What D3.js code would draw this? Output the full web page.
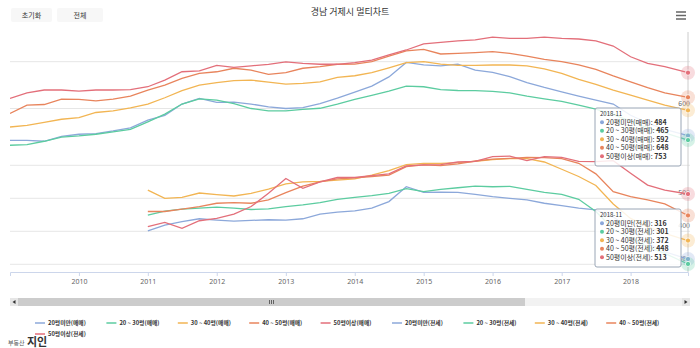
<!DOCTYPE html>
<html>
<head>
<meta charset="utf-8">
<script src="https://cdn.jsdelivr.net/npm/d3@7"></script>
<style>
  body { margin: 0; background: #fff; }
  svg { font-family: "Noto Sans CJK KR", "Noto Sans", sans-serif; }
</style>
</head>
<body>
<div id="chart"></div>
<script>
// quarterly samples, last point = 2018-11
const saleDates = ["2009-01","2009-04","2009-07","2009-10","2010-01","2010-04","2010-07","2010-10",
  "2011-01","2011-04","2011-07","2011-10","2012-01","2012-04","2012-07","2012-10",
  "2013-01","2013-04","2013-07","2013-10","2014-01","2014-04","2014-07","2014-10",
  "2015-01","2015-04","2015-07","2015-10","2016-01","2016-04","2016-07","2016-10",
  "2017-01","2017-04","2017-07","2017-10","2018-01","2018-04","2018-07","2018-11"];
const rentDates = saleDates.slice(8);

// 매매
const sale20 = [464,464,460,481, 490,493,504,517, 550,571,619,643, 626,627,619,607, 600,604,621,644, 670,696,735,797, 786,782,790,764, 754,736,711,690, 671,653,636,619, 571,538,511,484];
const sale2030 = [443,446,460,478, 483,490,500,511, 543,576,619,641, 636,621,600,590, 590,596,601,619, 639,656,674,696, 693,681,677,676, 673,667,653,641, 630,614,597,574, 546,517,496,465];
const sale3040 = [521,528,541,554, 561,583,590,603, 619,646,676,700, 711,719,721,713, 704,707,714,733, 740,753,774,796, 800,790,784,784, 786,786,782,769, 750,724,703,679, 657,636,614,592];
const sale4050 = [579,614,617,640, 639,633,640,653, 679,700,729,750, 757,772,764,746, 753,772,779,789, 790,800,824,846, 853,833,836,839, 843,836,824,810, 800,786,767,739, 714,689,667,648];
const sale50 = [643,667,679,679, 674,679,679,681, 693,721,757,761, 784,776,782,789, 799,793,789,789, 796,807,829,850, 876,883,889,893, 905,900,900,905, 900,897,889,867, 821,793,779,753];

// 전세
const rent20 = [401,419,429,438, 434,431,433,435, 434,438,452,458, 462,470,490,535, 518,519,518,512, 505,500,495,485, 478,470,465,444, 404,364,338,316];
const rent2030 = [449,461,467,470, 473,470,466,468, 475,480,487,497, 503,508,515,529, 520,527,532,537, 535,536,527,518, 512,497,460,406, 379,353,333,301];
const rent3040 = [525,500,503,516, 511,507,515,528, 544,550,551,555, 559,570,584,602, 606,606,608,612, 617,620,620,610, 588,566,539,483, 439,414,394,372];
const rent4050 = [460,460,467,475, 485,487,485,495, 517,537,550,559, 562,566,570,596, 601,599,604,613, 619,621,624,623, 620,606,574,520, 505,495,483,448];
const rent50 = [414,427,409,432, 439,452,475,515, 560,530,550,563, 563,569,574,598, 601,602,610,612, 626,628,614,626, 624,612,611,614, 576,540,525,513];

const sizeNames = ["20평미만", "20 ~ 30평", "30 ~ 40평", "40 ~ 50평", "50평이상"];
const colors = ["#8ca8da", "#5cccа0".replace("а","a"), "#f2b553", "#e8845c", "#e36f7a"];
const yearTicks = [2010, 2011, 2012, 2013, 2014, 2015, 2016, 2017, 2018];
const topGrid = [600, 800], topLabels = [600];
const bottomGrid = [300, 400, 500, 600], bottomLabels = [300, 400, 500];
const tipDate = "2018-11";

const parse = d3.timeParse("%Y-%m");
const W = 700, H = 348;

const svg = d3.select("#chart").append("svg")
  .attr("width", W).attr("height", H);

const x = d3.scaleTime()
  .domain([parse("2009-01"), parse("2018-11")])
  .range([10, 688]);
const yTop = d3.scaleLinear().domain([400, 800]).range([155.3, 61.7]);
const yBot = d3.scaleLinear().domain([300, 600]).range([264.3, 165.3]);

// title + buttons + menu
svg.append("text").attr("x", 350).attr("y", 15).attr("text-anchor", "middle")
  .attr("font-size", 9).attr("fill", "#333").text("경남 거제시 멀티차트");

[["초기화", 11, 41], ["전체", 57, 46]].forEach(([t, bx, bw]) => {
  svg.append("rect").attr("x", bx).attr("y", 8).attr("width", bw).attr("height", 14)
    .attr("rx", 2).attr("fill", "#f7f7f7");
  svg.append("text").attr("x", bx + bw / 2).attr("y", 17.5).attr("text-anchor", "middle")
    .attr("font-size", 7).attr("fill", "#333").text(t);
});
[12, 15.5, 19].forEach(yy => {
  svg.append("line").attr("x1", 676).attr("x2", 686).attr("y1", yy).attr("y2", yy)
    .attr("stroke", "#666").attr("stroke-width", 1.5);
});

// grid
const grid = svg.append("g");
topGrid.forEach(v => grid.append("line").attr("x1", 10).attr("x2", 690)
  .attr("y1", yTop(v)).attr("y2", yTop(v)).attr("stroke", "#e6e6e6"));
bottomGrid.forEach(v => grid.append("line").attr("x1", 10).attr("x2", 690)
  .attr("y1", yBot(v)).attr("y2", yBot(v)).attr("stroke", "#e6e6e6"));

// x axis
const xAxis = svg.append("g").attr("transform", "translate(0,272)")
  .call(d3.axisBottom(x)
    .tickValues(yearTicks.map(yr => new Date(yr, 0, 1)))
    .tickFormat(d3.timeFormat("%Y"))
    .tickSize(4).tickPadding(3));
xAxis.select(".domain").attr("stroke", "#ccd6eb");
xAxis.selectAll(".tick line").attr("stroke", "#ccd6eb");
xAxis.selectAll("text").attr("font-size", 7).attr("fill", "#666")
  .attr("font-family", "'Noto Sans', sans-serif");

// y labels (inside, right)
const yl = svg.append("g").attr("font-size", 7).attr("fill", "#666").attr("text-anchor", "end");
topLabels.forEach(v => yl.append("text").attr("x", 690).attr("y", yTop(v) - 3).text(v));
bottomLabels.forEach(v => yl.append("text").attr("x", 690).attr("y", yBot(v) - 3).text(v));

// lines
svg.append("clipPath").attr("id", "clip").append("rect")
  .attr("x", 10).attr("y", 28).attr("width", 682).attr("height", 246);
const plot = svg.append("g").attr("clip-path", "url(#clip)");

const saleSeries = [sale20, sale2030, sale3040, sale4050, sale50];
const rentSeries = [rent20, rent2030, rent3040, rent4050, rent50];

const lineTop = d3.line().x(d => x(d.date)).y(d => yTop(d.v));
const lineBot = d3.line().x(d => x(d.date)).y(d => yBot(d.v));

saleSeries.forEach((s, i) => {
  const pts = s.map((v, k) => ({ date: parse(saleDates[k]), v }));
  plot.append("path").datum(pts).attr("d", lineTop)
    .attr("fill", "none").attr("stroke", colors[i]).attr("stroke-width", 1.3);
});
rentSeries.forEach((s, i) => {
  const pts = s.map((v, k) => ({ date: parse(rentDates[k]), v }));
  plot.append("path").datum(pts).attr("d", lineBot)
    .attr("fill", "none").attr("stroke", colors[i]).attr("stroke-width", 1.3);
});

// crosshair + hover markers
const xe = x(parse(tipDate));
svg.append("line").attr("x1", xe).attr("x2", xe).attr("y1", 32).attr("y2", 272)
  .attr("stroke", "#cccccc");
const mk = svg.append("g");
function marker(cy, c) {
  mk.append("circle").attr("cx", xe).attr("cy", cy).attr("r", 7).attr("fill", c).attr("opacity", 0.25);
  mk.append("circle").attr("cx", xe).attr("cy", cy).attr("r", 2.6).attr("fill", c)
    .attr("stroke", "#fff").attr("stroke-width", 0.8);
}
saleSeries.forEach((s, i) => marker(yTop(s[s.length - 1]), colors[i]));
rentSeries.forEach((s, i) => marker(yBot(s[s.length - 1]), colors[i]));

// tooltips
function tooltip(ty, series, kind) {
  const g = svg.append("g").attr("transform", `translate(595,${ty})`);
  g.append("rect").attr("width", 86).attr("height", 58).attr("rx", 2)
    .attr("fill", "rgba(255,255,255,0.85)").attr("stroke", "#9aa6b6").attr("stroke-width", 1);
  g.append("text").attr("x", 5).attr("y", 8).attr("font-size", 6).attr("fill", "#333").text(tipDate);
  series.forEach((s, i) => {
    const yy = 16.5 + i * 8.5;
    g.append("circle").attr("cx", 7).attr("cy", yy - 2.3).attr("r", 2).attr("fill", colors[i]);
    const t = g.append("text").attr("x", 11).attr("y", yy).attr("font-size", 7).attr("fill", "#333");
    t.append("tspan").text(`${sizeNames[i]}(${kind}): `);
    t.append("tspan").attr("font-weight", "bold").text(s[s.length - 1]);
  });
}
tooltip(108, saleSeries, "매매");
tooltip(209, rentSeries, "전세");

// scrollbar
const sb = svg.append("g");
sb.append("rect").attr("x", 10).attr("y", 298).attr("width", 680).attr("height", 8).attr("fill", "#f2f2f2");
sb.append("rect").attr("x", 18).attr("y", 298).attr("width", 507).attr("height", 8).attr("fill", "#cccccc");
[-2, 0, 2].forEach(dx => sb.append("line").attr("x1", 271.5 + dx).attr("x2", 271.5 + dx)
  .attr("y1", 300).attr("y2", 304).attr("stroke", "#333").attr("stroke-width", 0.7));
sb.append("rect").attr("x", 10).attr("y", 298).attr("width", 8).attr("height", 8).attr("fill", "#e6e6e6");
sb.append("rect").attr("x", 682).attr("y", 298).attr("width", 8).attr("height", 8).attr("fill", "#e6e6e6");
sb.append("path").attr("d", "M15.5,300 L12.5,302 L15.5,304 Z").attr("fill", "#333");
sb.append("path").attr("d", "M684.5,300 L687.5,302 L684.5,304 Z").attr("fill", "#333");

// legend
const legendItems = [];
sizeNames.forEach((n, i) => legendItems.push({ name: `${n}(매매)`, color: colors[i] }));
sizeNames.forEach((n, i) => legendItems.push({ name: `${n}(전세)`, color: colors[i] }));
const lg = svg.append("g");
legendItems.forEach((it, i) => {
  const lx = i < 9 ? 35 + i * 71.4 : 35;
  const ly = i < 9 ? 323 : 334;
  lg.append("line").attr("x1", lx).attr("x2", lx + 10).attr("y1", ly).attr("y2", ly)
    .attr("stroke", it.color).attr("stroke-width", 1.5);
  lg.append("text").attr("x", lx + 13).attr("y", ly + 2).attr("font-size", 5.8)
    .attr("font-weight", "bold").attr("fill", "#333").text(it.name);
});

// logo
svg.append("text").attr("x", 8).attr("y", 345).attr("font-size", 6).attr("fill", "#555").text("부동산");
svg.append("text").attr("x", 27).attr("y", 346).attr("font-size", 11).attr("font-weight", "bold")
  .attr("fill", "#333").text("지인");
</script>
</body>
</html>
